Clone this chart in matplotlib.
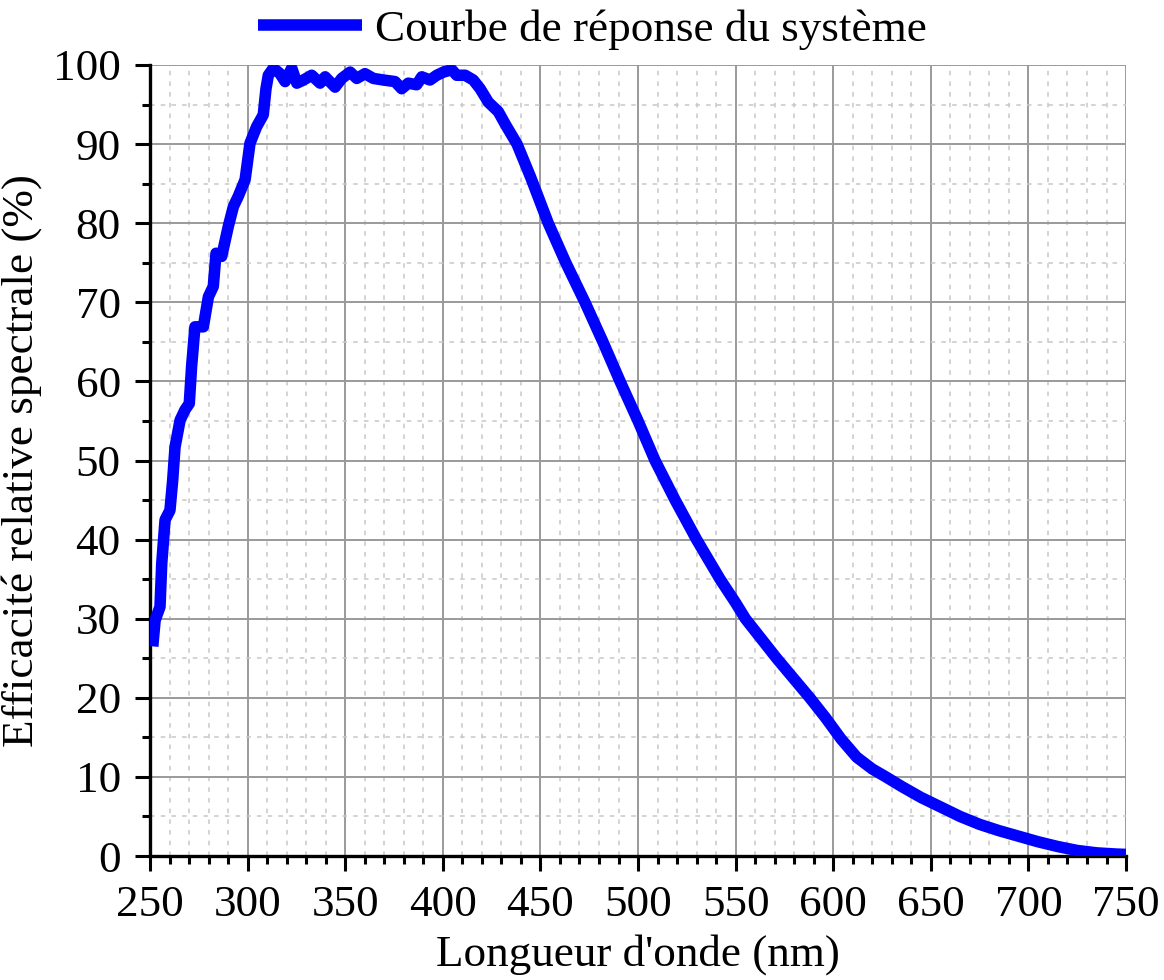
"""Spectral response curve of the detection system."""

import matplotlib.pyplot as plt
from matplotlib.ticker import MultipleLocator

plt.rcParams["font.family"] = ["Liberation Serif", "DejaVu Serif"]

# wavelength (nm) and relative spectral efficiency (%)
wavelength = [
    251.4, 252.6, 255.1, 256.0, 257.7, 260.2, 261.6, 262.8, 265.4, 267.9,
    270.1, 271.3, 273.0, 277.3, 279.9, 282.4, 283.8, 286.7, 290.1, 292.7,
    295.2, 298.7, 301.2, 304.6, 308.0, 309.4, 310.6, 313.2, 316.6, 319.2,
    322.6, 325.2, 328.6, 332.8, 337.1, 339.7, 344.8, 348.2, 352.5, 355.9,
    360.1, 364.4, 369.5, 375.5, 378.9, 382.3, 386.6, 389.2, 393.4, 396.9,
    400.3, 404.6, 407.1, 411.4, 415.6, 419.1, 423.3, 428.4, 432.0, 438.0,
    445.0, 454.0, 463.0, 472.8, 482.0, 490.8, 500.0, 508.7, 519.0, 530.0,
    542.0, 550.0, 555.0, 571.0, 588.0, 596.0, 604.0, 612.0, 620.0, 627.0,
    635.0, 645.0, 655.0, 665.0, 675.0, 685.0, 695.0, 705.0, 715.0, 725.0,
    735.0, 745.0, 750.0,
]
efficiency = [
    26.5, 29.8, 31.5, 37.0, 42.5, 43.7, 47.5, 51.7, 55.1, 56.4,
    57.2, 61.9, 66.9, 66.9, 70.7, 72.0, 76.2, 75.8, 79.6, 82.1,
    83.4, 85.5, 90.1, 92.2, 93.7, 97.0, 98.7, 99.6, 98.9, 97.9,
    99.6, 97.7, 98.1, 98.7, 97.7, 98.5, 97.2, 98.3, 99.1, 98.3,
    98.9, 98.3, 98.1, 97.9, 97.0, 97.7, 97.5, 98.5, 98.1, 98.7,
    99.1, 99.4, 98.7, 98.7, 98.1, 97.0, 95.3, 94.1, 92.5, 90.0,
    85.8, 80.0, 75.0, 70.0, 65.0, 60.0, 55.0, 50.0, 45.0, 40.0,
    35.0, 32.0, 30.0, 25.0, 20.0, 17.5, 14.8, 12.5, 11.0, 10.0,
    8.8, 7.4, 6.2, 5.0, 4.0, 3.2, 2.5, 1.8, 1.2, 0.7,
    0.4, 0.25, 0.2,
]

fig = plt.figure(figsize=(11.64, 9.8), dpi=100)
ax = fig.add_axes([0.1289, 0.1265, 0.8385, 0.8072])

ax.plot(wavelength, efficiency, color="#0000ff", lw=8.3,
        solid_capstyle="butt", solid_joinstyle="round",
        label="Courbe de réponse du système", zorder=3)

ax.set_xlim(250, 750)
ax.set_ylim(0, 100)
ax.xaxis.set_major_locator(MultipleLocator(50))
ax.xaxis.set_minor_locator(MultipleLocator(10))
ax.yaxis.set_major_locator(MultipleLocator(10))
ax.yaxis.set_minor_locator(MultipleLocator(5))

ax.grid(which="major", color="#9a9a9a", lw=1.4, ls="-", zorder=0)
ax.grid(which="minor", color="#c8c8c8", lw=1.1, ls=(0, (3, 4)), zorder=0)
ax.set_axisbelow(True)

for side in ("top", "right"):
    ax.spines[side].set_visible(False)
for side in ("left", "bottom"):
    ax.spines[side].set_linewidth(2.4)

ax.tick_params(which="major", direction="out", length=11, width=2.2,
               labelsize=32.5, pad=10)
ax.tick_params(which="minor", direction="out", length=5.5, width=2.2)

ax.set_xlabel("Longueur d'onde (nm)", fontsize=32.5, labelpad=6)
ax.set_ylabel("Efficacité relative spectrale (%)", fontsize=32.5, labelpad=8)

fig.legend(loc="center left", bbox_to_anchor=(258 / 1164, 1 - 30 / 980),
           frameon=False, fontsize=32.5, handlelength=2.3, handletextpad=0.3,
           borderpad=0, borderaxespad=0)

fig.savefig("out.png", dpi=100)
